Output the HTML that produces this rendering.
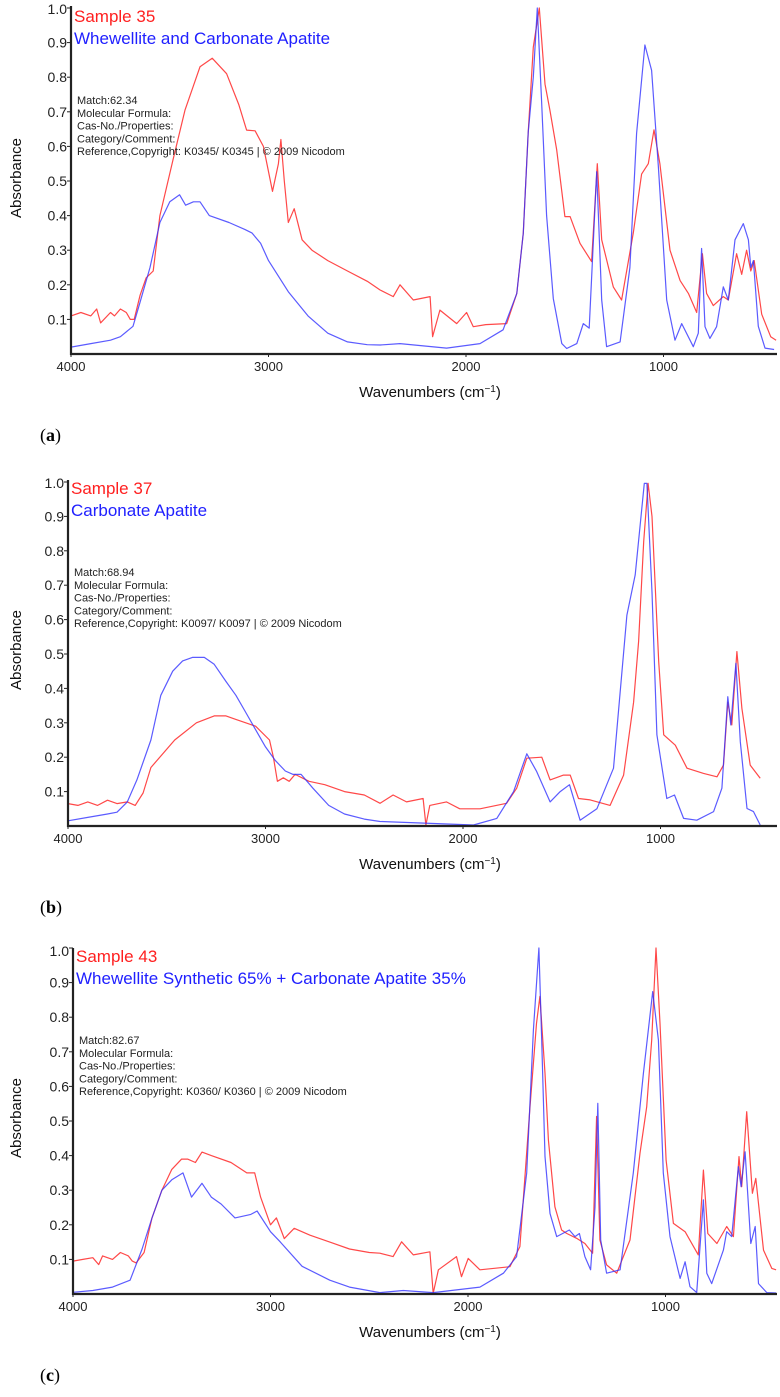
<!DOCTYPE html>
<html><head><meta charset="utf-8"><style>
html,body{margin:0;padding:0;background:#fff;}
svg{display:block;font-family:"Liberation Sans",Arial,sans-serif;}
</style></head><body>
<svg id="fig" width="780" height="1397" viewBox="0 0 780 1397" xmlns="http://www.w3.org/2000/svg"></svg>
<script>
const yTicks = [0.1,0.2,0.3,0.4,0.5,0.6,0.7,0.8,0.9,1.0];
const xTicks = [4000,3000,2000,1000];
const panelLetters = ["a","b","c"];
const sampleTitles = ["Sample 35","Sample 37","Sample 43"];
const refTitles = ["Whewellite and Carbonate Apatite","Carbonate Apatite","Whewellite Synthetic 65% + Carbonate Apatite 35%"];
const matchValues = ["62.34","68.94","82.67"];
const refCodes = ["K0345/ K0345","K0097/ K0097","K0360/ K0360"];

const aRed = [[4000,.11],[3950,.12],[3900,.11],[3870,.13],[3850,.09],[3800,.12],[3780,.11],[3750,.13],[3720,.12],[3700,.1],[3680,.1],[3650,.17],[3620,.22],[3584,.24],[3550,.40],[3484,.56],[3423,.705],[3347,.83],[3285,.855],[3212,.81],[3150,.72],[3111,.647],[3068,.645],[3026,.6],[2980,.47],[2950,.55],[2937,.62],[2920,.5],[2900,.38],[2870,.42],[2830,.33],[2780,.3],[2700,.27],[2600,.24],[2500,.21],[2435,.185],[2368,.166],[2334,.2],[2267,.156],[2182,.166],[2169,.05],[2132,.127],[2047,.088],[1997,.12],[1963,.079],[1900,.085],[1794,.088],[1743,.175],[1710,.35],[1685,.64],[1659,.887],[1629,1.0],[1600,.78],[1575,.705],[1541,.59],[1499,.397],[1473,.397],[1423,.32],[1364,.267],[1335,.55],[1313,.33],[1254,.194],[1212,.156],[1153,.35],[1111,.52],[1077,.55],[1048,.648],[1018,.55],[967,.30],[916,.212],[874,.175],[832,.12],[803,.29],[782,.175],[748,.14],[697,.166],[672,.156],[630,.29],[604,.23],[579,.3],[558,.24],[541,.27],[503,.115],[457,.05],[430,.04]];
const aBlue = [[4000,.02],[3900,.03],[3800,.04],[3750,.05],[3686,.08],[3650,.15],[3600,.25],[3550,.38],[3500,.44],[3450,.46],[3420,.43],[3380,.44],[3347,.44],[3300,.40],[3200,.38],[3120,.36],[3084,.35],[3040,.32],[3000,.27],[2900,.18],[2800,.11],[2700,.06],[2600,.035],[2500,.027],[2435,.026],[2334,.03],[2098,.017],[1929,.03],[1812,.07],[1743,.175],[1710,.35],[1685,.64],[1659,.8],[1639,1.0],[1617,.73],[1592,.40],[1558,.16],[1515,.03],[1490,.016],[1439,.03],[1406,.088],[1376,.075],[1338,.527],[1313,.156],[1288,.021],[1220,.035],[1170,.25],[1136,.638],[1094,.893],[1060,.82],[1026,.54],[984,.156],[942,.04],[908,.088],[849,.021],[824,.06],[807,.305],[790,.079],[765,.045],[731,.079],[697,.194],[672,.156],[638,.33],[596,.377],[570,.33],[558,.25],[545,.27],[520,.08],[486,.017],[440,.013]];
const bRed = [[4000,.065],[3950,.06],[3900,.07],[3850,.06],[3800,.075],[3752,.065],[3700,.07],[3660,.06],[3620,.096],[3580,.17],[3460,.25],[3350,.3],[3260,.32],[3200,.32],[3150,.31],[3050,.29],[2980,.25],[2960,.2],[2940,.13],[2910,.14],[2880,.13],[2850,.15],[2780,.13],[2700,.12],[2600,.1],[2500,.09],[2420,.066],[2354,.09],[2286,.07],[2202,.08],[2188,.003],[2168,.06],[2084,.07],[2016,.05],[1914,.05],[1779,.066],[1728,.11],[1677,.197],[1601,.2],[1559,.134],[1491,.148],[1457,.148],[1415,.08],[1356,.076],[1255,.06],[1187,.148],[1136,.36],[1111,.536],[1085,.827],[1063,.996],[1043,.9],[1009,.478],[984,.265],[925,.235],[866,.168],[782,.153],[714,.143],[681,.177],[659,.36],[639,.294],[613,.507],[588,.342],[546,.177],[495,.139]];
const bBlue = [[4000,.015],[3900,.025],[3800,.035],[3752,.04],[3700,.07],[3651,.134],[3580,.25],[3530,.38],[3470,.45],[3420,.48],[3370,.49],[3310,.49],[3260,.47],[3200,.42],[3150,.38],[3100,.33],[3050,.28],[3000,.23],[2950,.19],[2900,.16],[2860,.15],[2820,.15],[2760,.11],[2680,.06],[2600,.035],[2500,.02],[2420,.013],[1947,.003],[1829,.022],[1744,.1],[1677,.21],[1627,.158],[1559,.07],[1508,.1],[1461,.12],[1407,.017],[1322,.05],[1238,.168],[1170,.613],[1128,.73],[1082,.996],[1069,.996],[1043,.68],[1018,.265],[968,.08],[929,.09],[883,.022],[816,.017],[731,.042],[689,.11],[659,.376],[644,.294],[618,.473],[596,.245],[562,.051],[529,.042],[495,.003]];
const cRed = [[4000,.095],[3950,.1],[3900,.105],[3870,.085],[3850,.11],[3800,.1],[3760,.12],[3720,.11],[3700,.095],[3680,.09],[3640,.12],[3600,.22],[3550,.30],[3500,.36],[3450,.39],[3420,.39],[3380,.38],[3347,.41],[3300,.40],[3200,.38],[3120,.35],[3080,.35],[3050,.28],[3000,.2],[2970,.22],[2930,.16],[2880,.19],[2800,.17],[2700,.15],[2600,.13],[2500,.12],[2446,.118],[2379,.108],[2336,.151],[2277,.113],[2193,.122],[2176,.002],[2150,.07],[2058,.108],[2033,.05],[1999,.103],[1940,.07],[1788,.079],[1737,.137],[1686,.541],[1653,.782],[1636,.86],[1610,.638],[1593,.445],[1560,.252],[1526,.185],[1500,.175],[1450,.161],[1408,.146],[1369,.118],[1349,.513],[1332,.156],[1298,.084],[1247,.06],[1180,.156],[1129,.407],[1095,.541],[1070,.734],[1048,1.0],[1028,.782],[997,.387],[960,.204],[901,.18],[834,.113],[808,.358],[786,.175],[740,.146],[690,.195],[656,.166],[628,.397],[614,.31],[589,.527],[560,.291],[543,.334],[504,.127],[462,.074],[440,.07]];
const cBlue = [[4000,.005],[3900,.01],[3800,.02],[3711,.04],[3650,.13],[3600,.22],[3550,.30],[3500,.33],[3443,.35],[3400,.28],[3347,.32],[3300,.28],[3250,.26],[3180,.22],[3100,.23],[3068,.24],[3000,.18],[2950,.15],[2840,.08],[2700,.04],[2600,.02],[2446,.004],[2328,.01],[2176,.004],[1940,.02],[1821,.06],[1754,.108],[1703,.35],[1669,.763],[1641,1.0],[1627,.734],[1610,.397],[1585,.233],[1551,.166],[1487,.185],[1458,.166],[1436,.175],[1408,.108],[1379,.07],[1357,.25],[1343,.551],[1328,.156],[1298,.06],[1230,.07],[1163,.35],[1112,.638],[1065,.874],[1036,.734],[1011,.35],[977,.166],[926,.045],[901,.093],[876,.021],[842,.004],[808,.272],[791,.06],[766,.03],[707,.127],[690,.18],[665,.166],[631,.368],[617,.31],[597,.411],[568,.146],[546,.195],[529,.03],[487,.004],[440,.003]];

const redSeries = [aRed,bRed,cRed];
const blueSeries = [aBlue,bBlue,cBlue];

const layouts = [
  {x0:71, zeroY:354, k:346, top:6},
  {x0:68, zeroY:826, k:344, top:480},
  {x0:73, zeroY:1294, k:346, top:948}
];
const XR = 777, PXW = 0.1975;
const NS = "http://www.w3.org/2000/svg";
const svg = document.getElementById("fig");
function mk(tag, attrs, parent){
  const e = document.createElementNS(NS, tag);
  for (const k in attrs) e.setAttribute(k, attrs[k]);
  (parent||svg).appendChild(e);
  return e;
}

layouts.forEach((L, i) => {
  const xs = wn => L.x0 + (4000 - wn) * PXW;
  const ys = v => L.zeroY - v * L.k;
  const g = mk("g", {});
  
  

  const draw = (data, color, nm) => {
    const p = mk("polyline", {points: data.map(d => xs(d[0]).toFixed(1)+","+ys(d[1]).toFixed(1)).join(" "), fill:"none", stroke:color, "stroke-width":"1.2", "stroke-linejoin":"round"}, g);
    
    
  };
  draw(redSeries[i], "rgba(255,40,40,0.85)", 'sample-spectrum-line');
  draw(blueSeries[i], "rgba(50,50,255,0.8)", 'reference-spectrum-line');

  const ya = mk("line", {x1:L.x0, y1:L.top, x2:L.x0, y2:L.zeroY+1, stroke:"#222", "stroke-width":"2.2"}, g);
  
  
  const xa = mk("line", {x1:L.x0-1, y1:L.zeroY, x2:XR, y2:L.zeroY, stroke:"#222", "stroke-width":"2.2"}, g);
  
  

  yTicks.forEach(t => {
    let y = ys(t);
    mk("line", {x1:L.x0-4, y1:y, x2:L.x0, y2:y, stroke:"#222", "stroke-width":"1"}, g);
    const ly = Math.max(y, L.top + 3);
    const tx = mk("text", {x:L.x0-4, y:ly+5, "text-anchor":"end", "font-size":"14", fill:"#222"}, g);
    tx.textContent = t.toFixed(1);
    
    
  });
  xTicks.forEach(t => {
    const x = xs(t);
    mk("line", {x1:x, y1:L.zeroY, x2:x, y2:L.zeroY+3, stroke:"#222", "stroke-width":"1"}, g);
    const tx = mk("text", {x:x, y:L.zeroY+17, "text-anchor":"middle", "font-size":"13", fill:"#222"}, g);
    tx.textContent = String(t);
    
    
  });

  const xt = mk("text", {x:430, y:L.zeroY+43, "text-anchor":"middle", "font-size":"15", fill:"#111"}, g);
  xt.innerHTML = 'Wavenumbers (cm<tspan dy="-5" font-size="10">−1</tspan><tspan dy="5">)</tspan>';
  
  

  const yt = mk("text", {x:0, y:0, "text-anchor":"middle", "font-size":"15", fill:"#111", transform:"translate(21,"+(L.zeroY-176)+") rotate(-90)"}, g);
  yt.textContent = "Absorbance";
  
  

  const st = mk("text", {x:L.x0+3, y:L.zeroY-332, "font-size":"17", fill:"#ff2020"}, g);
  st.textContent = sampleTitles[i];
  
  
  const rt = mk("text", {x:L.x0+3, y:L.zeroY-310, "font-size":"17", fill:"#2020ff"}, g);
  rt.textContent = refTitles[i];
  
  

  const info = ["Match:" + matchValues[i], "Molecular Formula:", "Cas-No./Properties:", "Category/Comment:", "Reference,Copyright:  " + refCodes[i] + " | © 2009 Nicodom"];
  info.forEach((s, j) => {
    const it = mk("text", {x:L.x0+6, y:L.zeroY-250+j*12.8, "font-size":"11", fill:"#222"}, g);
    it.textContent = s;
    
    
  });

  const pl = mk("text", {x:40, y:L.zeroY+87, "font-size":"18", fill:"#000", "font-family":"Liberation Serif, serif"}, g);
  pl.innerHTML = '(<tspan font-weight="bold">' + panelLetters[i] + '</tspan>)';
  
  
});
</script>
</body></html>
